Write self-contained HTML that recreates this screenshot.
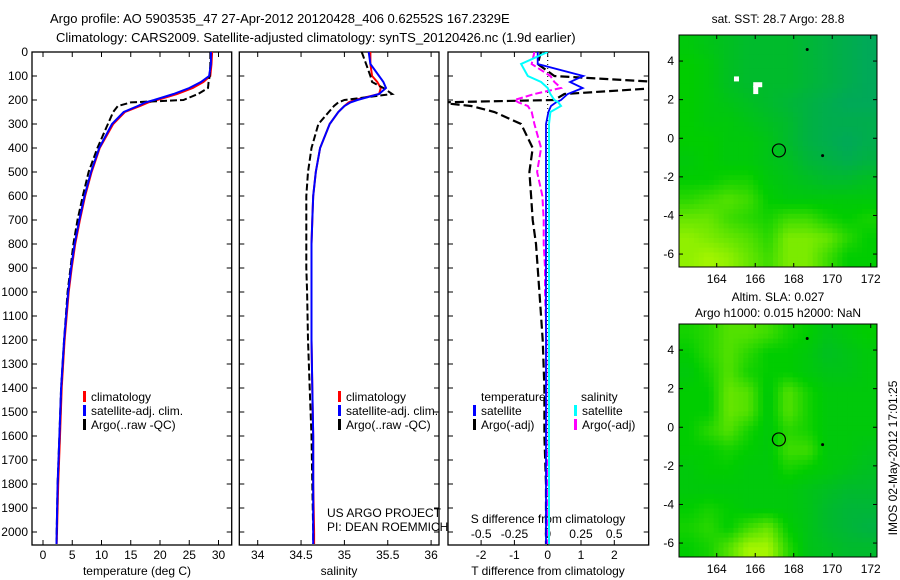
<!DOCTYPE html>
<html><head><meta charset="utf-8"><style>
body{margin:0;background:#fff}
svg{display:block;font-family:"Liberation Sans",sans-serif}
text{font-size:12px;fill:#000}
</style></head><body>
<svg id="s" width="900" height="580" viewBox="0 0 900 580" xmlns="http://www.w3.org/2000/svg">
<defs>
<clipPath id="c1"><rect x="32" y="52" width="199.7" height="493"/></clipPath>
<clipPath id="c2"><rect x="239.3" y="52" width="199.7" height="493"/></clipPath>
<clipPath id="c3"><rect x="448" y="52" width="200.7" height="493"/></clipPath>
</defs>
<text x="50" y="23" style="font-size:13px">Argo profile: AO 5903535_47 27-Apr-2012 20120428_406 0.62552S 167.2329E</text>
<text x="56" y="42" style="font-size:13px">Climatology: CARS2009. Satellite-adjusted climatology: synTS_20120426.nc (1.9d earlier)</text>
<g id="g"></g>
</svg>
<script>
// ---- profile data ----
const depths = [0,50,100,125,150,175,200,210,225,250,300,400,500,600,700,800,900,1000,1200,1400,1600,1800,2000,2050];
const tempClim = [28.9,28.8,28.6,27.4,25.6,22.9,19.5,18,16.6,14.0,12.0,9.7,8.3,7.2,6.3,5.5,4.9,4.4,3.7,3.2,2.9,2.6,2.4,2.35];
const tempSat  = [28.7,28.7,28.4,27.0,25.0,22.3,19.0,17.5,16.2,13.8,11.8,9.6,8.2,7.1,6.2,5.4,4.8,4.3,3.6,3.1,2.8,2.5,2.35,2.3];
const tempArgo = [28.6,28.6,28.5,28.3,28.2,26.5,24.0,15.0,12.8,12.0,11.1,9.3,7.8,6.8,5.9,5.2,4.7,4.2,3.6,3.1,2.8,2.5,2.35,2.3];
const salClim  = [35.30,35.30,35.32,35.38,35.42,35.40,35.12,35.05,35.0,34.93,34.83,34.72,34.67,34.64,34.63,34.62,34.62,34.62,34.62,34.63,34.64,34.64,34.65,34.65];
const salSat   = [35.28,35.30,35.40,35.45,35.48,35.40,35.15,35.07,35.0,34.93,34.83,34.72,34.67,34.64,34.63,34.62,34.62,34.62,34.62,34.63,34.64,34.64,34.64,34.64];
const salArgo  = [35.20,35.25,35.30,35.32,35.45,35.55,35.0,34.93,34.88,34.82,34.70,34.62,34.58,34.56,34.56,34.56,34.56,34.57,34.58,34.60,34.62,34.63,34.64,34.64];
const tDiffSat = [-0.3,-0.3,1.07,0.67,1.05,0.6,0.4,0.25,0.1,0.02,-0.05,-0.05,-0.05,-0.05,-0.05,-0.05,-0.05,-0.05,-0.05,-0.05,-0.05,-0.05,-0.05,-0.05];
const tDiffArgo= [-0.2,-0.3,0.2,3.3,3.3,0.5,0.2,-3.3,-2.3,-1.6,-0.8,-0.45,-0.55,-0.5,-0.45,-0.35,-0.3,-0.25,-0.15,-0.1,-0.1,-0.05,-0.05,-0.05];
const sDiffSat = [0,-0.2,-0.15,-0.05,0,0.02,0.05,0.08,0.1,0.02,0.01,0.01,0.01,0.01,0.01,0.01,0.01,0.01,0.01,0.01,0.01,0.01,0.01,0.01];
const sDiffArgo= [-0.1,-0.12,0.02,0.05,0.1,-0.1,-0.25,-0.22,-0.15,-0.12,-0.1,-0.05,-0.08,-0.04,-0.03,-0.03,-0.02,-0.02,-0.01,-0.01,-0.01,0,0,0];
const depthTicks = [0,100,200,300,400,500,600,700,800,900,1000,1100,1200,1300,1400,1500,1600,1700,1800,1900,2000];
const tempTicks = [0,5,10,15,20,25,30];
const salTicks = [34,34.5,35,35.5,36];
const tdTicks = [-2,-1,0,1,2];
const sdTicks = [-0.5,-0.25,0,0.25,0.5];
// ---- map data (rows north->south, cols west->east), normalized colour value ----
const sstGrid = [
[.45,.4,.35,.3,.3,.3,.25,.2,.15,.1],
[.5,.45,.35,.3,.3,.3,.25,.2,.15,.1],
[.5,.45,.35,.3,.3,.3,.25,.2,.15,.1],
[.5,.45,.4,.35,.3,.25,.2,.15,.1,.1],
[.5,.45,.45,.4,.35,.3,.2,.15,.15,.15],
[.5,.5,.45,.45,.4,.3,.2,.15,.1,.15],
[.45,.5,.45,.45,.4,.35,.25,.2,.15,.2],
[.5,.5,.55,.55,.45,.4,.35,.3,.3,.35],
[.6,.65,.7,.65,.5,.45,.45,.45,.45,.45],
[.75,.75,.65,.6,.55,.65,.65,.55,.5,.55],
[.85,.8,.75,.7,.6,.8,.8,.75,.6,.5],
[.85,.9,.85,.75,.65,.8,.8,.65,.5,.5]];
const slaGrid = [
[.55,.6,.7,.7,.65,.55,.5,.4,.45,.5],
[.5,.6,.7,.6,.5,.5,.45,.35,.4,.45],
[.45,.55,.7,.55,.5,.5,.45,.4,.4,.45],
[.5,.5,.75,.7,.45,.7,.55,.45,.45,.45],
[.5,.5,.75,.7,.45,.7,.55,.45,.45,.45],
[.5,.6,.7,.55,.45,.6,.55,.45,.45,.45],
[.5,.5,.55,.5,.45,.65,.65,.45,.45,.4],
[.45,.5,.5,.45,.45,.55,.5,.45,.4,.35],
[.45,.45,.45,.45,.45,.45,.4,.35,.3,.3],
[.5,.55,.5,.45,.45,.45,.4,.3,.25,.25],
[.55,.6,.5,.65,.75,.5,.4,.3,.25,.2],
[.5,.55,.7,.9,.9,.6,.4,.35,.3,.3]];
const lonTicks = [164,166,168,170,172];
const latTicks = [4,2,0,-2,-4,-6];
const floatPos = [167.23,-0.63];
const otherFloats = [[168.7,4.6],[169.5,-0.9]];

const NS='http://www.w3.org/2000/svg';
const G=document.getElementById('g');
function mk(tag,attrs,parent){const e=document.createElementNS(NS,tag);for(const k in attrs)e.setAttribute(k,attrs[k]);(parent||G).appendChild(e);return e;}
function txt(x,y,s,anchor,parent){const t=mk('text',{x:x,y:y,'text-anchor':anchor||'start'},parent);t.textContent=s;return t;}

const y0=52, ppm=0.24;
const yD=d=>y0+d*ppm;
const P1={l:32,r:231.7}, P2={l:239.3,r:439}, P3={l:448,r:648.7}, TOP=52, BOT=545;
const xT=v=>43+v*5.85, xS=v=>257.7+(v-34)*86.7, xTD=v=>547.7+v*33.3, xSD=v=>547.7+v*133;

function frame(P,name){
  const r=mk('rect',{x:P.l,y:TOP,width:P.r-P.l,height:BOT-TOP,fill:'none',stroke:'#000','stroke-width':1.3});
  
  
  depthTicks.forEach(d=>{const y=yD(d);mk('line',{x1:P.l,x2:P.l+5,y1:y,y2:y,stroke:'#000'});mk('line',{x1:P.r-5,x2:P.r,y1:y,y2:y,stroke:'#000'});});
}
function xticks(vals,fx,ylab){vals.forEach(v=>{const x=fx(v);mk('line',{x1:x,x2:x,y1:TOP,y2:TOP+5,stroke:'#000'});mk('line',{x1:x,x2:x,y1:BOT-5,y2:BOT,stroke:'#000'});const t=txt(x,ylab,String(v),'middle');});}
function line(vals,fx,color,dash,w,clip,name){
  const pts=vals.map((v,i)=>fx(v).toFixed(1)+','+yD(depths[i]).toFixed(1)).join(' ');
  const p=mk('polyline',{points:pts,fill:'none',stroke:color,'stroke-width':w,'stroke-dasharray':dash||'none','clip-path':'url(#'+clip+')'});
  
  
}
frame(P1,'temperature-panel');frame(P2,'salinity-panel');frame(P3,'difference-panel');
depthTicks.forEach(d=>{const t=txt(28,yD(d)+4,String(d),'end');});
xticks(tempTicks,xT,559);xticks(salTicks,xS,559);xticks(tdTicks,xTD,559);
sdTicks.forEach(v=>{const t=txt(xSD(v),538,String(v),'middle');});
[[137,'temperature (deg C)'],[339,'salinity'],[548,'T difference from climatology']].forEach(a=>{const t=txt(a[0],575,a[1],'middle');});
{const t=txt(548,523,'S difference from climatology','middle');}
mk('line',{x1:xTD(0),x2:xTD(0),y1:TOP,y2:BOT,stroke:'#000','stroke-dasharray':'1,3'});
line(tempClim,xT,'#f00','',2,'c1','temp-climatology-line');
line(tempArgo,xT,'#000','7,3',2,'c1','temp-argo-line');
line(tempSat,xT,'#00f','',2,'c1','temp-satellite-line');
line(salClim,xS,'#f00','',2,'c2','sal-climatology-line');
line(salArgo,xS,'#000','7,3',2,'c2','sal-argo-line');
line(salSat,xS,'#00f','',2,'c2','sal-satellite-line');
line(tDiffArgo,xTD,'#000','9,4',2.2,'c3','tdiff-argo-line');
line(sDiffArgo,xSD,'#f0f','7,3',2,'c3','sdiff-argo-line');
line(tDiffSat,xTD,'#00f','',1.8,'c3','tdiff-satellite-line');
line(sDiffSat,xSD,'#0ff','',2,'c3','sdiff-satellite-line');
function leg(x,y,c,s){mk('rect',{x:x,y:y-10,width:3,height:11,fill:c});const t=txt(x+8,y,s);}
[83,338].forEach(x=>{leg(x,401,'#f00','climatology');leg(x,415,'#00f','satellite-adj. clim.');leg(x,429,'#000','Argo(..raw -QC)');});
{const t=txt(481,401,'temperature');}
{const t=txt(581,401,'salinity');}
leg(473,415,'#00f','satellite');leg(473,429,'#000','Argo(-adj)');
leg(574,415,'#0ff','satellite');leg(574,429,'#f0f','Argo(-adj)');
{const t=txt(327,517,'US ARGO PROJECT');}
{const t=txt(327,531,'PI: DEAN ROEMMICH');}

// ---- maps ----
const ML=679, MR=877, lonL=162.04, ppd=19.25, lppd=19.3;
const xLon=v=>ML+(v-lonL)*ppd;
function col(v){const a=[0,160,110],b=[0,205,0],c=[205,255,0];let p,q,t;if(v<.5){p=a;q=b;t=v/.5}else{p=b;q=c;t=(v-.5)/.5}return 'rgb('+p.map((z,i)=>Math.round(z+(q[i]-z)*t)).join(',')+')';}
function sample(grid,r,c){const R=grid.length,C=grid[0].length;r=Math.max(0,Math.min(R-1,r));c=Math.max(0,Math.min(C-1,c));const r0=Math.floor(r),c0=Math.floor(c),r1=Math.min(R-1,r0+1),c1=Math.min(C-1,c0+1),fr=r-r0,fc=c-c0;
  return grid[r0][c0]*(1-fr)*(1-fc)+grid[r0][c1]*(1-fr)*fc+grid[r1][c0]*fr*(1-fc)+grid[r1][c1]*fr*fc;}
function map(top,bot,grid,name){
  const yLat=v=>top+(5.35-v)*lppd;
  const g=mk('g',{});
  
  
  const rows=grid.length, cols=grid[0].length, S=4, cw=(MR-ML)/cols/S, ch=(bot-top)/rows/S;
  for(let i=0;i<rows*S;i++)for(let j=0;j<cols*S;j++){
    const v=sample(grid,(i+0.5)/S-0.5,(j+0.5)/S-0.5);
    const c=mk('rect',{x:ML+j*cw,y:top+i*ch,width:cw+0.4,height:ch+0.4,fill:col(v)},g);
    
    
  }
  mk('rect',{x:ML,y:top,width:MR-ML,height:bot-top,fill:'none',stroke:'#000'},g);
  lonTicks.forEach(v=>{const x=xLon(v);mk('line',{x1:x,x2:x,y1:top,y2:top+4,stroke:'#000'},g);mk('line',{x1:x,x2:x,y1:bot-4,y2:bot,stroke:'#000'},g);const t=txt(x,bot+16,String(v),'middle',g);});
  latTicks.forEach(v=>{const y=yLat(v);mk('line',{x1:ML,x2:ML+4,y1:y,y2:y,stroke:'#000'},g);mk('line',{x1:MR-4,x2:MR,y1:y,y2:y,stroke:'#000'},g);const t=txt(674,y+4,String(v),'end',g);});
  const c=mk('circle',{cx:xLon(floatPos[0]),cy:yLat(floatPos[1]),r:6.5,fill:'none',stroke:'#000','stroke-width':1.2},g);
  
  
  otherFloats.forEach(f=>{const d=mk('circle',{cx:xLon(f[0]),cy:yLat(f[1]),r:1.5,fill:'#000'},g);});
  return yLat;
}
const yl1=map(35,267,sstGrid,'sst-map');
[[165,3.1,5,5],[166,2.8,9,5],[166,2.6,5,8]].forEach(w=>mk('rect',{x:xLon(w[0])-2,y:yl1(w[1])-2,width:w[2],height:w[3],fill:'#fff'}));
map(324,557,slaGrid,'sla-map');
{const t=txt(778,23,'sat. SST: 28.7 Argo: 28.8','middle');}
{const t=txt(778,301,'Altim. SLA: 0.027','middle');}
{const t=txt(778,317,'Argo h1000: 0.015 h2000: NaN','middle');}
{const t=txt(0,0,'IMOS 02-May-2012 17:01:25','middle');t.setAttribute('transform','translate(897,458) rotate(-90)');}
</script>
</body></html>
